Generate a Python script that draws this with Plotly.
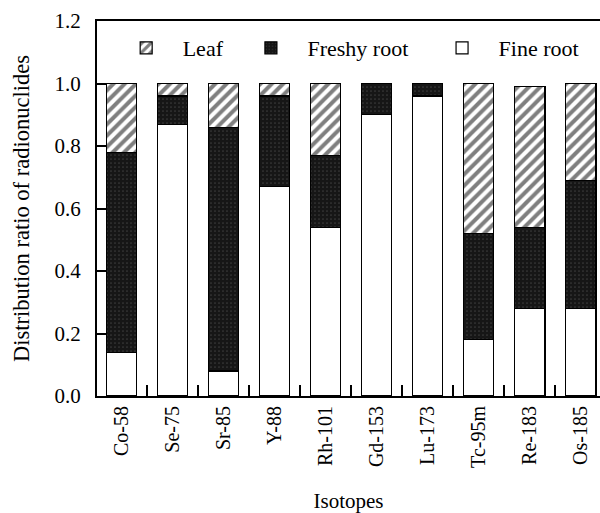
import plotly.graph_objects as go

isotopes = ["Co-58", "Se-75", "Sr-85", "Y-88", "Rh-101", "Gd-153", "Lu-173", "Tc-95m", "Re-183", "Os-185"]
fine_root = [0.14, 0.87, 0.08, 0.67, 0.54, 0.90, 0.96, 0.18, 0.28, 0.28]
freshy_root = [0.64, 0.09, 0.78, 0.29, 0.23, 0.10, 0.04, 0.34, 0.26, 0.41]
leaf = [0.22, 0.04, 0.14, 0.04, 0.23, 0.00, 0.00, 0.48, 0.45, 0.31]
y_ticks = [0.0, 0.2, 0.4, 0.6, 0.8, 1.0, 1.2]

FONT = "Liberation Serif, Times New Roman, serif"
NB = "\u00a0"

fig = go.Figure()
fig.add_trace(go.Bar(
    x=isotopes, y=fine_root, name=NB * 3 + "Fine root",
    marker=dict(color="white", line=dict(color="black", width=1.2)),
    legend="legend3", showlegend=True,
))
fig.add_trace(go.Bar(
    x=isotopes, y=freshy_root, name=NB * 3 + "Freshy root",
    marker=dict(color="#161616", line=dict(color="black", width=1.2),
                pattern=dict(shape=".", fgcolor="#5e5e5e", bgcolor="#161616", size=4, solidity=0.15)),
    legend="legend2", showlegend=True,
))
fig.add_trace(go.Bar(
    x=isotopes, y=leaf, name=NB * 3 + "Leaf",
    marker=dict(color="white", line=dict(color="black", width=1.2),
                pattern=dict(shape="/", fgcolor="black", bgcolor="white", size=8, solidity=0.5)),
    legend="legend", showlegend=True,
))

leg_common = dict(orientation="h", yanchor="middle", y=0.928, xanchor="left",
                  font=dict(family=FONT, size=22, color="black"),
                  bgcolor="rgba(0,0,0,0)", borderwidth=0, visible=True)
fig.update_layout(
    barmode="stack",
    bargap=0.4,
    showlegend=True,
    width=600, height=513,
    margin=dict(l=97, r=0, t=21, b=117),
    paper_bgcolor="white", plot_bgcolor="white",
    font=dict(family=FONT, size=20, color="black"),
    legend=dict(x=0.058, **leg_common),
    legend2=dict(x=0.306, **leg_common),
    legend3=dict(x=0.686, **leg_common),
    xaxis=dict(
        range=[-0.48, 9.38],
        showline=True, linecolor="black", linewidth=2, mirror=True,
        ticks="inside", tickson="boundaries", ticklen=11, tickwidth=2, tickcolor="black",
        tickangle=-90, tickfont=dict(family=FONT, size=20),
        title=dict(text="Isotopes", font=dict(family=FONT, size=21), standoff=28),
        showgrid=False,
    ),
    yaxis=dict(
        range=[0, 1.2],
        tickvals=y_ticks, tickformat=".1f",
        showline=True, linecolor="black", linewidth=2,
        ticks="inside", ticklen=9, tickwidth=2, tickcolor="black",
        ticklabelstandoff=10,
        tickfont=dict(family=FONT, size=21),
        title=dict(text="Distribution ratio of radionuclides", font=dict(family=FONT, size=22.5), standoff=19),
        showgrid=False, zeroline=False,
    ),
)

fig.write_html("out.html")
